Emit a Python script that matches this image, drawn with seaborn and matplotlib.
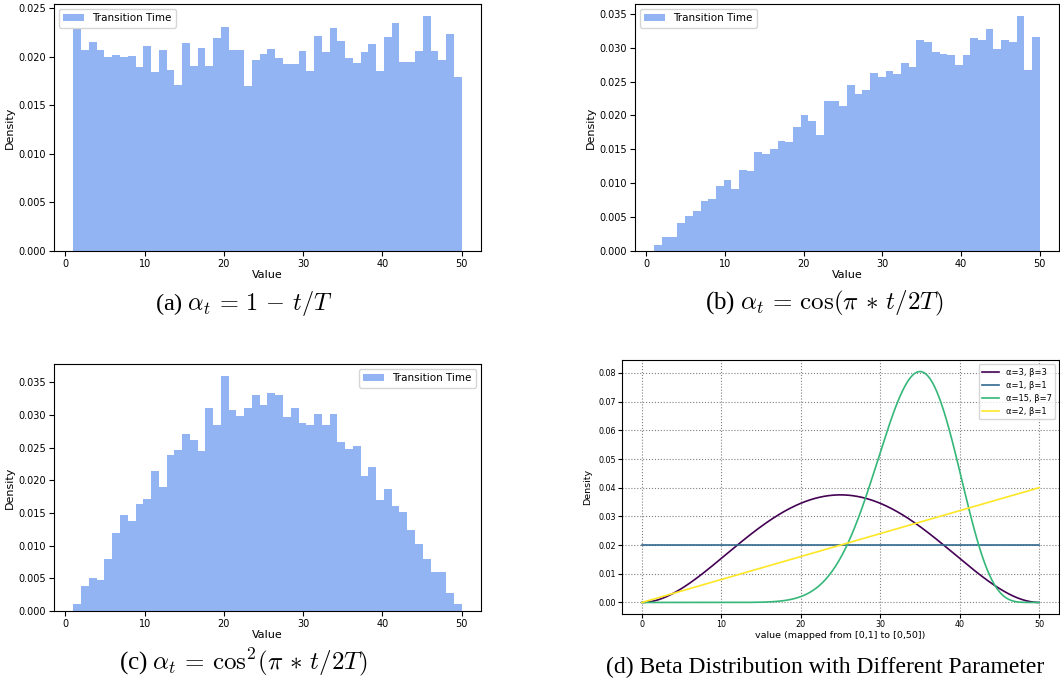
import math
import numpy as np
import pandas as pd
import matplotlib
matplotlib.use("Agg")
import matplotlib.pyplot as plt
from matplotlib.patches import Patch
import seaborn as sns

# ---------------- data ----------------
bin_lo, bin_hi, n_bins = 1, 50, 50

density_linear = [0.0228, 0.0207, 0.0215, 0.0207, 0.0200, 0.0202, 0.0200, 0.0201, 0.0189, 0.0211,
                  0.0184, 0.0207, 0.0186, 0.0171, 0.0214, 0.0190, 0.0209, 0.0190, 0.0219, 0.0230,
                  0.0207, 0.0207, 0.0170, 0.0196, 0.0203, 0.0208, 0.0199, 0.0192, 0.0192, 0.0206,
                  0.0185, 0.0221, 0.0205, 0.0229, 0.0216, 0.0199, 0.0193, 0.0205, 0.0213, 0.0185,
                  0.0220, 0.0235, 0.0194, 0.0194, 0.0206, 0.0242, 0.0206, 0.0197, 0.0223, 0.0179]

density_cos = [0.0009, 0.0020, 0.0021, 0.0042, 0.0051, 0.0059, 0.0074, 0.0076, 0.0096, 0.0104,
               0.0092, 0.0120, 0.0118, 0.0146, 0.0143, 0.0151, 0.0162, 0.0161, 0.0183, 0.0201,
               0.0192, 0.0171, 0.0221, 0.0221, 0.0214, 0.0245, 0.0232, 0.0238, 0.0263, 0.0257,
               0.0266, 0.0261, 0.0277, 0.0271, 0.0311, 0.0308, 0.0294, 0.0291, 0.0289, 0.0274,
               0.0289, 0.0314, 0.0311, 0.0327, 0.0298, 0.0311, 0.0308, 0.0347, 0.0267, 0.0316]

density_cos2 = [0.0011, 0.0039, 0.0051, 0.0048, 0.0080, 0.0120, 0.0147, 0.0137, 0.0163, 0.0172,
                0.0215, 0.0189, 0.0238, 0.0247, 0.0271, 0.0262, 0.0245, 0.0310, 0.0285, 0.0360,
                0.0307, 0.0299, 0.0310, 0.0331, 0.0316, 0.0334, 0.0331, 0.0297, 0.0310, 0.0288,
                0.0285, 0.0301, 0.0284, 0.0302, 0.0259, 0.0248, 0.0252, 0.0206, 0.0221, 0.0170,
                0.0186, 0.0160, 0.0152, 0.0124, 0.0103, 0.0079, 0.0059, 0.0059, 0.0028, 0.0010]

beta_alphas = [3, 1, 15, 2]
beta_betas = [3, 1, 7, 1]
beta_labels = ["α=3, β=3", "α=1, β=1", "α=15, β=7", "α=2, β=1"]
value_max = 50

captions = [r"(a) $\alpha_t \,=\, 1 \,-\, t/T$",
            r"(b) $\alpha_t \,=\, \cos(\pi \,*\, t/2T)$",
            r"(c) $\alpha_t \,=\, \mathrm{cos}^2(\pi \,*\, t/2T)$",
            "(d) Beta Distribution with Different Parameter"]
caption_sizes = [17.5, 18, 18, 17]

# ---------------- style ----------------
plt.rcParams["mathtext.fontset"] = "cm"
plt.rcParams["font.family"] = ["DejaVu Sans"]

W, H = 1060, 683
fig = plt.figure(figsize=(W / 100, H / 100), dpi=100)


def rect(l, t, r, b):
    return [l / W, 1 - b / H, (r - l) / W, (b - t) / H]


hist_color = "cornflowerblue"
edges = np.linspace(bin_lo, bin_hi, n_bins + 1)
centers = (edges[:-1] + edges[1:]) / 2


def draw_hist(ax, heights, loc):
    df = pd.DataFrame({"Value": centers, "w": heights})
    sns.histplot(data=df, x="Value", weights="w", bins=edges.tolist(), stat="count",
                 color=hist_color, alpha=0.7, linewidth=0, ax=ax)
    ax.set_ylabel("Density", fontsize=8, labelpad=3)
    ax.set_xlabel("Value", fontsize=8, labelpad=1)
    ax.tick_params(labelsize=7, length=3.5, pad=2)
    ax.set_xticks([0, 10, 20, 30, 40, 50])
    ax.yaxis.set_major_formatter(matplotlib.ticker.FormatStrFormatter("%.3f"))
    ax.legend(handles=[Patch(facecolor=hist_color, alpha=0.7, label="Transition Time")],
              loc=loc, fontsize=7.5)


ax_a = fig.add_axes(rect(54, 4, 481, 251))
draw_hist(ax_a, density_linear, "upper left")
ax_b = fig.add_axes(rect(635, 4, 1059, 251))
draw_hist(ax_b, density_cos, "upper left")
ax_c = fig.add_axes(rect(54, 364, 481, 611))
draw_hist(ax_c, density_cos2, "upper right")

ax_d = fig.add_axes(rect(622, 360, 1059, 614))
xs = np.linspace(0, value_max, 500)
u = xs / value_max
colors = [matplotlib.colormaps["viridis"](v) for v in np.linspace(0, 1, len(beta_alphas))]
for a, b, lab, col in zip(beta_alphas, beta_betas, beta_labels, colors):
    B = math.gamma(a) * math.gamma(b) / math.gamma(a + b)
    ys = (u ** (a - 1)) * ((1 - u) ** (b - 1)) / B / value_max
    sns.lineplot(x=xs, y=ys, color=col, label=lab, linewidth=1.2, ax=ax_d)
ax_d.grid(True, linestyle=":", color="gray", linewidth=0.8)
ax_d.set_xticks([0, 10, 20, 30, 40, 50])
ax_d.set_yticks(np.arange(0, 0.081, 0.01))
ax_d.yaxis.set_major_formatter(matplotlib.ticker.FormatStrFormatter("%.2f"))
ax_d.tick_params(labelsize=5.8, length=3, pad=1.5)
ax_d.set_xlabel("value (mapped from [0,1] to [0,50])", fontsize=6.8, labelpad=1)
ax_d.set_ylabel("Density", fontsize=6.8)
ax_d.legend(loc="upper right", fontsize=6)

cap_pos = [(244, 303), (824, 303), (243, 662), (825, 667)]
for (cx, cy), txt, fs in zip(cap_pos, captions, caption_sizes):
    fig.text(cx / W, 1 - cy / H, txt, ha="center", va="center", fontsize=fs,
             family=["Liberation Serif", "DejaVu Serif"])

fig.savefig("out.png", dpi=100)
